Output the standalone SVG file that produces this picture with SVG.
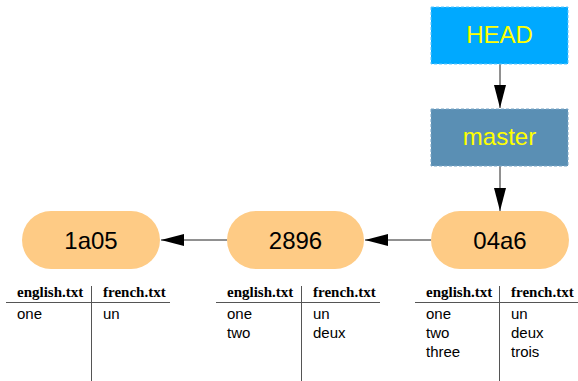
<svg xmlns="http://www.w3.org/2000/svg" width="578" height="381" viewBox="0 0 578 381">
<style>
.ref{stroke-width:1;stroke-dasharray:3 2}
.lbl{font-family:"Liberation Sans",Arial,sans-serif;font-size:24px;fill:#ffff00;text-anchor:middle}
.cm{fill:#fecb85}
.ct{font-family:"Liberation Sans",Arial,sans-serif;font-size:24px;fill:#000;text-anchor:middle}
.th{font-family:"Liberation Serif","Times New Roman",serif;font-size:15px;font-weight:bold;fill:#000}
.td{font-family:"Liberation Sans",Arial,sans-serif;font-size:15px;fill:#000}
.tl{stroke:#555;stroke-width:1;fill:none}
.edge{stroke:#222;stroke-width:1;fill:none;marker-end:url(#ah)}
</style>
<defs>
<marker id="ah" markerWidth="23" markerHeight="12" refX="23" refY="6" orient="auto" markerUnits="userSpaceOnUse">
<path d="M0,0 L23,6 L0,12 Z" fill="#000"/>
</marker>
</defs>
<rect width="578" height="381" fill="#fff"/>
<g id="connectors">
<line class="edge" x1="500" y1="64" x2="500" y2="108"/>
<line class="edge" x1="500" y1="166" x2="500" y2="211"/>
<line class="edge" x1="431" y1="240" x2="365" y2="240"/>
<line class="edge" x1="227" y1="240" x2="161" y2="240"/>
</g>
<g id="HEAD">
<rect x="431" y="7" width="137" height="57" fill="#00a9ff" stroke="#5cc6ff" class="ref"/>
<text class="lbl" x="499.5" y="43">HEAD</text>
</g>
<g id="master">
<rect x="431" y="109" width="137" height="57" fill="#5a8fb4" stroke="#7aa6c6" class="ref"/>
<text class="lbl" x="499.5" y="145">master</text>
</g>
<g id="c1a05">
<rect class="cm" x="22" y="211" width="138" height="58" rx="29" ry="29"/>
<text class="ct" x="91" y="249">1a05</text>
</g>
<g id="c2896">
<rect class="cm" x="227" y="211" width="137" height="58" rx="29" ry="29"/>
<text class="ct" x="295.5" y="249">2896</text>
</g>
<g id="c04a6">
<rect class="cm" x="431" y="211" width="138" height="58" rx="29" ry="29"/>
<text class="ct" x="500" y="249">04a6</text>
</g>
<g id="table1a05">
<line class="tl" x1="6" y1="302.5" x2="170" y2="302.5"/>
<line class="tl" x1="91.5" y1="286" x2="91.5" y2="381"/>
<text class="th" x="17" y="297">english.txt</text>
<text class="th" x="103" y="297">french.txt</text>
<text class="td" x="17" y="319">one</text>
<text class="td" x="103" y="319">un</text>
</g>
<g id="table2896">
<line class="tl" x1="216" y1="302.5" x2="380" y2="302.5"/>
<line class="tl" x1="301.5" y1="286" x2="301.5" y2="381"/>
<text class="th" x="227" y="297">english.txt</text>
<text class="th" x="313" y="297">french.txt</text>
<text class="td" x="227" y="319">one</text>
<text class="td" x="313" y="319">un</text>
<text class="td" x="227" y="338">two</text>
<text class="td" x="313" y="338">deux</text>
</g>
<g id="table04a6">
<line class="tl" x1="415" y1="302.5" x2="578" y2="302.5"/>
<line class="tl" x1="499.5" y1="286" x2="499.5" y2="381"/>
<text class="th" x="426" y="297">english.txt</text>
<text class="th" x="511" y="297">french.txt</text>
<text class="td" x="426" y="319">one</text>
<text class="td" x="511" y="319">un</text>
<text class="td" x="426" y="338">two</text>
<text class="td" x="511" y="338">deux</text>
<text class="td" x="426" y="357">three</text>
<text class="td" x="511" y="357">trois</text>
</g>
</svg>
